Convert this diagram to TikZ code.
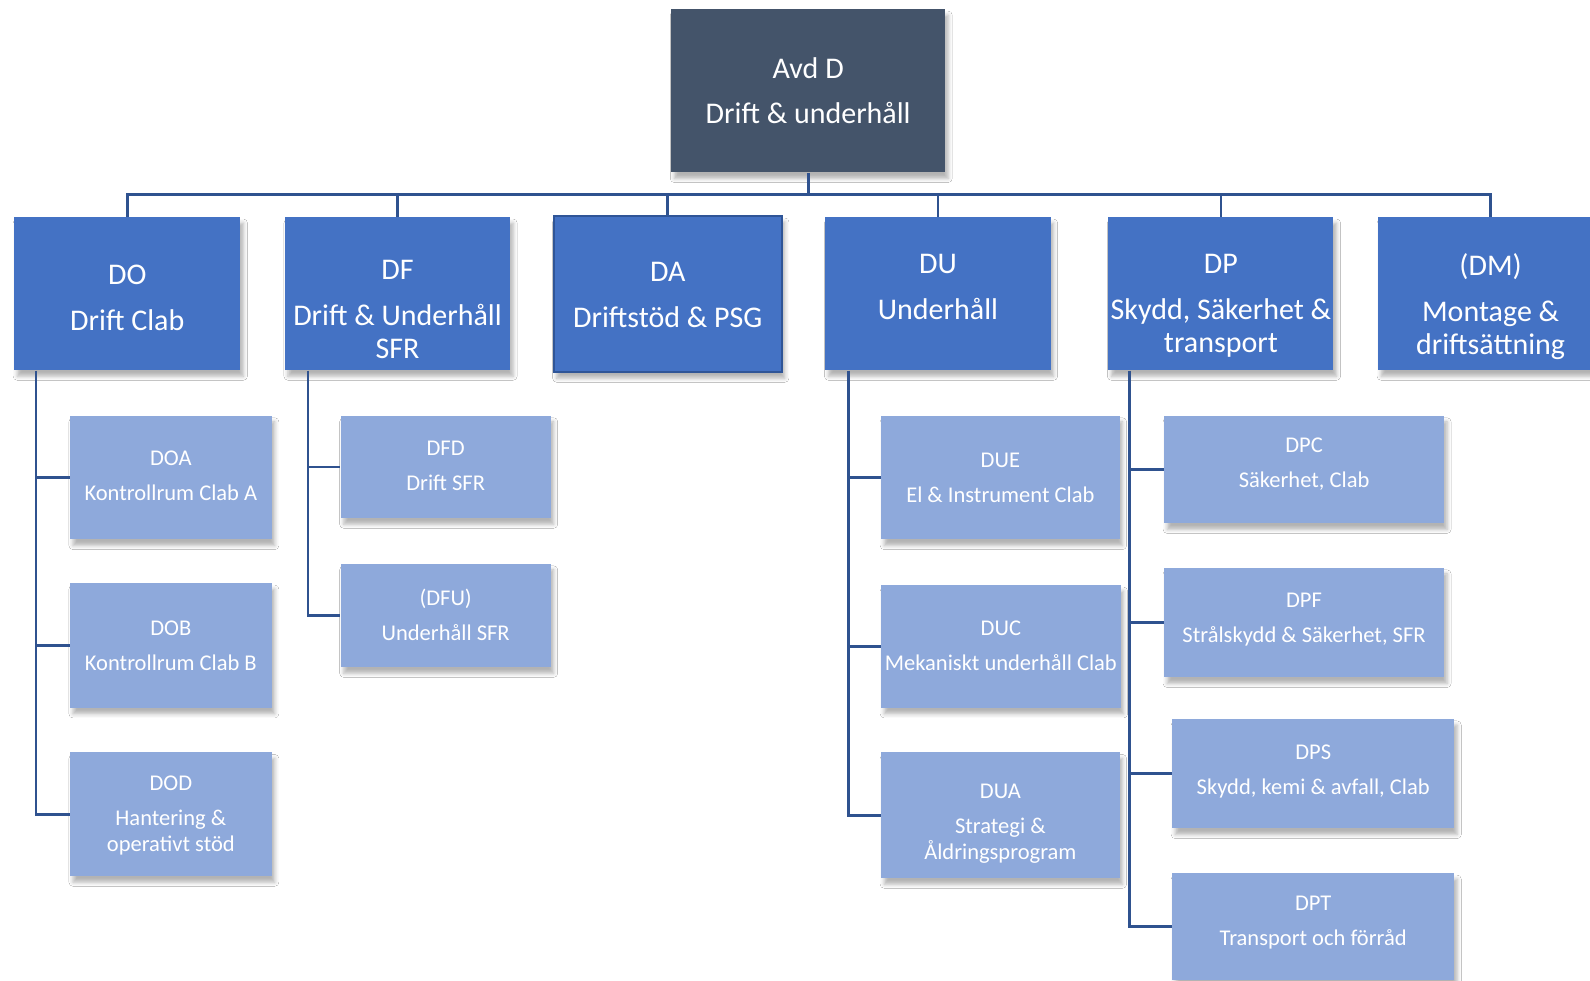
\documentclass[tikz,border=0pt]{standalone}
\usepackage{fontspec}
\setmainfont{Carlito}
\usetikzlibrary{shadows.blur}
\definecolor{topc}{HTML}{44546A}
\definecolor{lvone}{HTML}{4472C4}
\definecolor{lvtwo}{HTML}{8EA9DB}
\definecolor{linec}{HTML}{2F528F}
\definecolor{daborder}{HTML}{2F5597}
\newcommand{\stk}[1]{\begin{tabular}[t]{@{}c@{}}#1\end{tabular}}
\tikzset{
  shad/.style={blur shadow={shadow xshift=1.5pt, shadow yshift=-3pt, shadow blur radius=2pt, shadow opacity=30}},
  topbox/.style={rectangle, inner sep=0pt, fill=topc, shad},
  lonebox/.style={rectangle, inner sep=0pt, fill=lvone, shad},
  ltwobox/.style={rectangle, inner sep=0pt, fill=lvtwo, shad},
  bigt/.style={inner sep=0pt, anchor=base, text=white, font=\fontsize{14.8}{16.5}\selectfont},
  smt/.style={inner sep=0pt, anchor=base, text=white, font=\fontsize{11.1}{12.5}\selectfont},
  conn/.style={draw=linec, line width=1.3pt}
}
\begin{document}
\begin{tikzpicture}[x=0.5pt,y=-0.5pt]
\clip (0,0) rectangle (1568,967);
\fill[white] (0,0) rectangle (1568,967);
% top
\node[topbox, minimum width=135pt, minimum height=80.5pt] (top) at (797,89.5) {};
\node[bigt] (topT) at (797,77) {\stk{Avd D\\[6pt]Drift \& underhåll}};
% level 1
\node[lonebox, minimum width=111.5pt, minimum height=75.5pt] (DO) at (125.5,289.5) {};
\node[lonebox, minimum width=111pt, minimum height=75.5pt] (DF) at (392,289.5) {};
\node[lonebox, minimum width=112.5pt, minimum height=77pt, draw=daborder, line width=1pt] (DA) at (658.5,290) {};
\node[lonebox, minimum width=111pt, minimum height=75.5pt] (DU) at (925,289.5) {};
\node[lonebox, minimum width=111pt, minimum height=75.5pt] (DP) at (1204,289.5) {};
\node[lonebox, minimum width=111pt, minimum height=75.5pt] (DM) at (1470,289.5) {};
\node[bigt] (DOT) at (125.5,281) {\stk{DO\\[6pt]Drift Clab}};
\node[bigt] (DFT) at (392,276) {\stk{DF\\[6pt]Drift \& Underhåll\\SFR}};
\node[bigt] (DAT) at (658.5,278) {\stk{DA\\[6pt]Driftstöd \& PSG}};
\node[bigt] (DUT) at (925,270) {\stk{DU\\[6pt]Underhåll}};
\node[bigt] (DPT0) at (1204,270) {\stk{DP\\[6pt]Skydd, Säkerhet \&\\transport}};
\node[bigt] (DMT) at (1470,272) {\stk{(DM)\\[6pt]Montage \&\\driftsättning}};
% level 2
\node[ltwobox, minimum width=99.5pt, minimum height=61pt] (DOA) at (168.5,471) {};
\node[ltwobox, minimum width=99.5pt, minimum height=61.5pt] (DOB) at (168.5,636.5) {};
\node[ltwobox, minimum width=99.5pt, minimum height=61pt] (DOD) at (168.5,803) {};
\node[ltwobox, minimum width=103.5pt, minimum height=50.5pt] (DFD) at (439.5,460.5) {};
\node[ltwobox, minimum width=103.5pt, minimum height=51pt] (DFU) at (439.5,607) {};
\node[ltwobox, minimum width=117.5pt, minimum height=61pt] (DUE) at (986.5,471) {};
\node[ltwobox, minimum width=118pt, minimum height=60.5pt] (DUC) at (987,637.5) {};
\node[ltwobox, minimum width=117.5pt, minimum height=62pt] (DUA) at (986.5,804) {};
\node[ltwobox, minimum width=138pt, minimum height=53pt] (DPC) at (1286,463) {};
\node[ltwobox, minimum width=138pt, minimum height=54pt] (DPF) at (1286,614) {};
\node[ltwobox, minimum width=139pt, minimum height=54pt] (DPS) at (1295,763) {};
\node[ltwobox, minimum width=139pt, minimum height=52.5pt] (DPTb) at (1295,913.5) {};
\node[smt] (DOAT) at (168.5,459) {\stk{DOA\\[4.75pt]Kontrollrum Clab A}};
\node[smt] (DOBT) at (168.5,627) {\stk{DOB\\[4.75pt]Kontrollrum Clab B}};
\node[smt] (DODT) at (168.5,780) {\stk{DOD\\[4.75pt]Hantering \&\\operativt stöd}};
\node[smt] (DFDT) at (439.5,449) {\stk{DFD\\[4.75pt]Drift SFR}};
\node[smt] (DFUT) at (439.5,597) {\stk{(DFU)\\[4.75pt]Underhåll SFR}};
\node[smt] (DUET) at (986.5,461) {\stk{DUE\\[4.75pt]El \& Instrument Clab}};
\node[smt] (DUCT) at (987,627) {\stk{DUC\\[4.75pt]Mekaniskt underhåll Clab}};
\node[smt] (DUAT) at (986.5,787) {\stk{DUA\\[4.75pt]Strategi \&\\Åldringsprogram}};
\node[smt] (DPCT) at (1286,446) {\stk{DPC\\[4.75pt]Säkerhet, Clab}};
\node[smt] (DPFT) at (1286,599) {\stk{DPF\\[4.75pt]Strålskydd \& Säkerhet, SFR}};
\node[smt] (DPST) at (1295,749) {\stk{DPS\\[4.75pt]Skydd, kemi \& avfall, Clab}};
\node[smt] (DPTT) at (1295,898) {\stk{DPT\\[4.75pt]Transport och förråd}};
% connectors
\coordinate (bus) at (797,192);
\draw[conn] (top.south) -- (bus);
\draw[conn] (DO.north) -- (DO.north |- bus) -- (DM.north |- bus) -- (DM.north);
\foreach \n in {DF,DA,DU,DP} \draw[conn] (\n.north) -- (\n.north |- bus);
\coordinate (DOv) at ([xshift=11pt]DO.south west);
\coordinate (DFv) at ([xshift=11.5pt]DF.south west);
\coordinate (DUv) at ([xshift=11.5pt]DU.south west);
\coordinate (DPv) at ([xshift=10.5pt]DP.south west);
\draw[conn] (DOv) |- (DOD.west);
\draw[conn] (DOv |- DOA.west) -- (DOA.west);
\draw[conn] (DOv |- DOB.west) -- (DOB.west);
\draw[conn] (DFv) |- (DFU.west);
\draw[conn] (DFv |- DFD.west) -- (DFD.west);
\draw[conn] (DUv) |- (DUA.west);
\draw[conn] (DUv |- DUE.west) -- (DUE.west);
\draw[conn] (DUv |- DUC.west) -- (DUC.west);
\draw[conn] (DPv) |- (DPTb.west);
\draw[conn] (DPv |- DPC.west) -- (DPC.west);
\draw[conn] (DPv |- DPF.west) -- (DPF.west);
\draw[conn] (DPv |- DPS.west) -- (DPS.west);
\end{tikzpicture}
\end{document}
